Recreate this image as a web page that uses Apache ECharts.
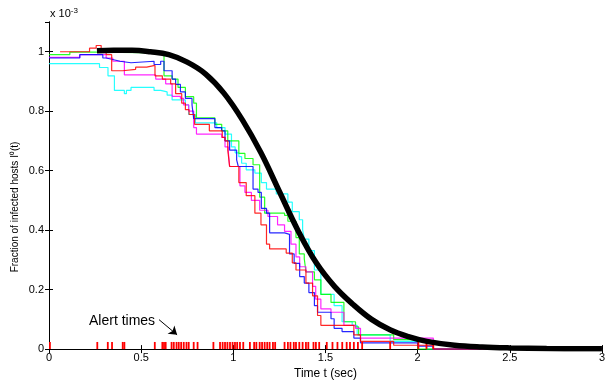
<!DOCTYPE html>
<html>
<head>
<meta charset="utf-8">
<script src="https://cdn.jsdelivr.net/npm/echarts@6/dist/echarts.min.js"></script>
<style>html,body{margin:0;padding:0;background:#fff;}#c{width:608px;height:385px;}</style>
</head>
<body>
<div id="c"></div>
<script>
// values in units of 1e-3
var xTicks = ['0', '0.5', '1', '1.5', '2', '2.5', '3'];
var yTicks = ['0', '0.2', '0.4', '0.6', '0.8', '1'];

var modelCurve = [
  [0.26,1.003],[0.35,1.005],[0.45,1.005],[0.55,1.0],[0.65,0.99],[0.75,0.965],[0.85,0.925],
  [0.95,0.86],[1.05,0.77],[1.15,0.66],[1.25,0.53],[1.35,0.40],[1.45,0.29],[1.55,0.21],
  [1.65,0.15],[1.75,0.10],[1.85,0.065],[1.95,0.042],[2.05,0.026],[2.2,0.013],[2.35,0.007],
  [2.5,0.004],[2.7,0.002],[3.0,0.001]
];

var runRed = [
  [0.06,1.0],[0.22,1.012],[0.256,1.021],[0.283,1.0],[0.31,0.99],[0.34,0.936],[0.40,0.941],
  [0.47,0.948],[0.53,0.954],[0.575,0.919],[0.615,0.908],[0.66,0.892],[0.687,0.859],[0.72,0.827],
  [0.74,0.805],[0.76,0.789],[0.79,0.756],[0.87,0.734],[0.94,0.712],[0.955,0.70],[0.97,0.669],
  [0.98,0.614],[1.03,0.56],[1.07,0.516],[1.117,0.457],[1.15,0.418],[1.18,0.353],[1.197,0.337],
  [1.287,0.323],[1.32,0.29],[1.34,0.266],[1.394,0.222],[1.43,0.179],[1.457,0.113],[1.475,0.08],
  [1.654,0.048],[1.69,0.026],[1.87,0.013],[2.085,0.0],[3.0,0.0]
];
var runGreen = [
  [0.0,0.99],[0.113,0.999],[0.274,0.996],[0.624,0.919],[0.668,0.908],[0.70,0.88],[0.74,0.849],
  [0.785,0.827],[0.80,0.778],[0.90,0.756],[0.937,0.734],[0.97,0.70],[1.03,0.658],[1.063,0.641],
  [1.107,0.62],[1.143,0.511],[1.17,0.457],[1.278,0.45],[1.296,0.43],[1.34,0.375],[1.358,0.32],
  [1.385,0.304],[1.394,0.26],[1.44,0.233],[1.475,0.184],[1.53,0.157],[1.60,0.092],[1.663,0.075],
  [1.68,0.048],[1.87,0.032],[2.0,0.0],[3.0,0.0]
];
var runBlue = [
  [0.0,0.979],[0.167,0.99],[0.292,0.979],[0.31,0.974],[0.346,0.968],[0.385,0.963],[0.445,0.968],
  [0.57,0.957],[0.606,0.968],[0.624,0.936],[0.668,0.908],[0.687,0.89],[0.713,0.865],[0.74,0.843],
  [0.776,0.821],[0.785,0.775],[0.90,0.745],[0.937,0.734],[0.955,0.70],[0.98,0.669],[1.018,0.636],
  [1.027,0.614],[1.107,0.538],[1.134,0.527],[1.152,0.473],[1.18,0.457],[1.197,0.391],[1.278,0.386],
  [1.305,0.32],[1.33,0.288],[1.36,0.244],[1.385,0.222],[1.41,0.19],[1.44,0.146],[1.457,0.124],
  [1.53,0.102],[1.547,0.07],[1.59,0.059],[1.654,0.037],[1.69,0.021],[2.0,0.01],[2.085,0.0],[3.0,0.0]
];
var runCyan = [
  [0.0,0.96],[0.274,0.947],[0.32,0.919],[0.355,0.87],[0.409,0.859],[0.42,0.87],[0.445,0.88],
  [0.57,0.87],[0.606,0.865],[0.641,0.854],[0.668,0.838],[0.74,0.821],[0.758,0.789],[0.794,0.761],
  [0.91,0.745],[0.955,0.723],[0.99,0.68],[1.01,0.66],[1.03,0.647],[1.045,0.625],[1.07,0.603],
  [1.117,0.592],[1.152,0.56],[1.18,0.538],[1.233,0.522],[1.296,0.494],[1.32,0.462],[1.358,0.435],
  [1.376,0.402],[1.385,0.37],[1.41,0.331],[1.44,0.266],[1.475,0.184],[1.547,0.146],[1.59,0.092],
  [1.645,0.08],[1.672,0.048],[1.851,0.026],[2.05,0.0],[3.0,0.0]
];
var runMagenta = [
  [0.0,0.981],[0.167,0.99],[0.31,0.979],[0.346,0.968],[0.409,0.922],[0.579,0.908],[0.633,0.892],
  [0.668,0.85],[0.713,0.843],[0.73,0.821],[0.758,0.80],[0.785,0.745],[0.80,0.723],[0.937,0.712],
  [0.955,0.68],[0.973,0.663],[0.98,0.614],[1.036,0.549],[1.063,0.527],[1.098,0.5],[1.143,0.467],
  [1.188,0.446],[1.24,0.418],[1.278,0.396],[1.313,0.353],[1.34,0.31],[1.36,0.277],[1.394,0.26],
  [1.43,0.211],[1.447,0.168],[1.475,0.135],[1.53,0.124],[1.60,0.08],[1.663,0.07],[1.69,0.037],
  [2.085,0.0],[3.0,0.0]
];

var alertTimes = [
  0.005,0.262,0.319,0.342,0.400,0.409,0.574,0.615,0.624,0.633,0.665,0.677,0.692,0.704,0.717,
  0.731,0.746,0.758,0.785,0.806,0.892,0.928,0.942,0.955,0.968,0.982,0.996,1.009,1.021,1.036,
  1.054,1.090,1.113,1.125,1.143,1.156,1.170,1.184,1.197,1.215,1.227,1.278,1.296,1.310,1.328,
  1.340,1.358,1.376,1.394,1.407,1.435,1.448,1.466,1.507,1.538,1.565,1.591,1.615,1.633,1.654,
  1.676,1.699,1.851,2.004,2.048,2.085
];
var alertTickHeight = 0.024;

var FONT = 'Liberation Sans';
var chart = echarts.init(document.getElementById('c'), null, {renderer: 'canvas'});

function stepSeries(name, data, color) {
  return {
    name: name, type: 'line', step: 'end', data: data, showSymbol: false, symbol: 'none',
    lineStyle: {color: color, width: 1.2, opacity: 0.85}, z: 3, animation: false
  };
}

var option = {
  animation: false,
  backgroundColor: '#ffffff',
  grid: {left: 49, right: 1, top: 22, bottom: 27},
  xAxis: [{
    type: 'value', min: 0, max: 3, interval: 0.5, position: 'bottom',
    name: 'Time t (sec)', nameLocation: 'middle', nameGap: 16,
    nameTextStyle: {fontFamily: FONT, fontSize: 12, color: '#000'},
    axisLine: {show: true, lineStyle: {color: '#000', width: 1}},
    axisTick: {show: true, inside: true, length: 4, lineStyle: {color: '#000'}},
    axisLabel: {fontFamily: FONT, fontSize: 11, color: '#000', margin: 3,
      formatter: function (v) { var i = Math.round(v / 0.5); return xTicks[i] !== undefined ? xTicks[i] : ''; }},
    splitLine: {show: false}
  }, {
    type: 'value', min: 0, max: 3, interval: 0.5, position: 'top',
    axisLine: {show: true, lineStyle: {color: '#000', width: 1}},
    axisTick: {show: true, inside: true, length: 4, lineStyle: {color: '#000'}},
    axisLabel: {show: false}, splitLine: {show: false}
  }],
  yAxis: [{
    type: 'value', min: 0, max: 1.1, interval: 0.2, position: 'left',
    axisLine: {show: true, lineStyle: {color: '#000', width: 1}},
    axisTick: {show: true, inside: true, length: 4, lineStyle: {color: '#000'}},
    axisLabel: {fontFamily: FONT, fontSize: 11, color: '#000', margin: 5, showMaxLabel: false,
      formatter: function (v) { var i = Math.round(v / 0.2); return (Math.abs(v - i * 0.2) < 1e-6 && yTicks[i] !== undefined) ? yTicks[i] : ''; }},
    splitLine: {show: false}
  }, {
    type: 'value', min: 0, max: 1.1, interval: 0.2, position: 'right',
    axisLine: {show: true, lineStyle: {color: '#000', width: 1}},
    axisTick: {show: true, inside: true, length: 4, lineStyle: {color: '#000'}},
    axisLabel: {show: false}, splitLine: {show: false}
  }],
  graphic: [{
    type: 'text', left: 50, top: 7,
    style: {text: 'x 10{s|-3}', fontFamily: FONT, fontSize: 11, fill: '#000',
      rich: {s: {fontSize: 8, verticalAlign: 'top', padding: [0, 0, 6, 0], fontFamily: FONT}}}
  }, {
    type: 'text', x: 15, y: 207, rotation: Math.PI / 2,
    style: {text: 'Fraction of infected hosts I\u2070(t)', fontFamily: FONT, fontSize: 10, fill: '#000',
      align: 'center', verticalAlign: 'middle'}
  }, {
    type: 'text', left: 89, top: 314,
    style: {text: 'Alert times', fontFamily: FONT, fontSize: 14, fill: '#000'}
  }],
  series: [
    stepSeries('cyan', runCyan, '#00ffff'),
    stepSeries('green', runGreen, '#00ff00'),
    stepSeries('magenta', runMagenta, '#ff00ff'),
    stepSeries('blue', runBlue, '#0000ff'),
    stepSeries('red', runRed, '#ff0000'),
    {
      name: 'alerts', type: 'custom', z: 4,
      data: alertTimes.map(function (t) { return [t, 0]; }),
      renderItem: function (params, api) {
        var p0 = api.coord([api.value(0), 0]);
        var p1 = api.coord([api.value(0), alertTickHeight]);
        return {type: 'line', shape: {x1: p0[0], y1: p0[1], x2: p1[0], y2: p1[1]},
          style: {stroke: '#ff0000', lineWidth: 1.8}};
      }
    },
    {
      name: 'model', type: 'line', data: modelCurve, smooth: 0.4, showSymbol: false, symbol: 'none',
      lineStyle: {color: '#000', width: 5.5}, z: 5,
      markLine: {
        silent: true, symbol: ['none', 'arrow'], symbolSize: 8,
        lineStyle: {color: '#000', width: 1, type: 'solid'}, label: {show: false},
        data: [[{coord: [0.597, 0.099]}, {coord: [0.695, 0.048]}]]
      }
    }
  ]
};
chart.setOption(option);
</script>
</body>
</html>
